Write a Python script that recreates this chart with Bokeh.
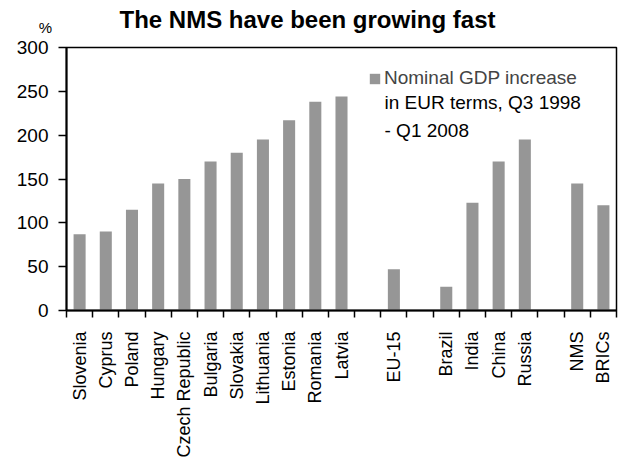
import math

from bokeh.embed import file_html
from bokeh.models import (ColumnDataSource, FixedTicker, Label, Legend,
                          LegendItem, Range1d)
from bokeh.plotting import figure
from bokeh.resources import INLINE

# Country groups, each group separated by an empty slot on the x axis
nms_countries = ["Slovenia", "Cyprus", "Poland", "Hungary", "Czech Republic",
                 "Bulgaria", "Slovakia", "Lithuania", "Estonia", "Romania", "Latvia"]
nms_values = [87, 90, 115, 145, 150, 170, 180, 195, 217, 238, 244]

eu_countries = ["EU-15"]
eu_values = [47]

bric_countries = ["Brazil", "India", "China", "Russia"]
bric_values = [27, 123, 170, 195]

aggregate_names = ["NMS", "BRICs"]
aggregate_values = [145, 120]

y_ticks = [0, 50, 100, 150, 200, 250, 300]

groups = [
    (nms_countries, nms_values),
    (eu_countries, eu_values),
    (bric_countries, bric_values),
    (aggregate_names, aggregate_values),
]

# Lay the groups out on slots of width 1, one blank slot between groups
names, values, centers = [], [], []
slot = 0
for gi, (labels, vals) in enumerate(groups):
    if gi > 0:
        slot += 1
    for lab, v in zip(labels, vals):
        names.append(lab)
        values.append(v)
        centers.append(slot + 0.5)
        slot += 1
n_slots = slot

source = ColumnDataSource(dict(x=centers, top=values, name=names))

FONT = "Liberation Sans"
BAR = "#969696"
INK = "#000000"

p = figure(width=618, height=460, output_backend="svg", toolbar_location=None,
           x_range=Range1d(0, n_slots), y_range=Range1d(0, 300),
           min_border_left=66, min_border_right=2, min_border_top=47,
           min_border_bottom=0)
p.title.text = ""

bars = p.vbar(x="x", top="top", width=0.46, source=source,
              fill_color=BAR, line_color=None)

p.xgrid.visible = False
p.ygrid.visible = False
p.outline_line_color = INK
p.outline_line_width = 1.5
p.background_fill_color = "white"
p.border_fill_color = "white"

# y axis
ya = p.yaxis[0]
ya.ticker = FixedTicker(ticks=y_ticks)
ya.major_tick_out = 8
ya.major_tick_in = 0
ya.minor_tick_line_color = None
ya.axis_line_width = 2
ya.axis_line_color = INK
ya.major_tick_line_color = INK
ya.major_tick_line_width = 1.5
ya.major_label_text_font = FONT
ya.major_label_text_font_size = "19px"
ya.major_label_text_color = INK
ya.major_label_standoff = 10

# x axis: labels at bar centres, tick marks at slot boundaries
xa = p.xaxis[0]
xa.ticker = FixedTicker(ticks=centers, minor_ticks=list(range(n_slots + 1)))
xa.major_label_overrides = {c: n for c, n in zip(centers, names)}
xa.major_label_orientation = math.pi / 2
xa.major_tick_line_color = None
xa.major_tick_out = 0
xa.major_tick_in = 0
xa.minor_tick_out = 7
xa.minor_tick_in = 0
xa.minor_tick_line_color = INK
xa.minor_tick_line_width = 1.5
xa.axis_line_width = 2
xa.axis_line_color = INK
xa.major_label_text_font = FONT
xa.major_label_text_font_size = "18px"
xa.major_label_text_color = INK
xa.major_label_standoff = 14

# chart title, in the panel above the frame (x measured from the frame's left edge)
p.add_layout(Label(x=241, y=28, x_units="screen", y_units="screen",
                   text="The NMS have been growing fast", text_font=FONT,
                   text_font_size="24px", text_font_style="bold",
                   text_align="center", text_baseline="alphabetic",
                   text_color=INK), "above")

# unit marker, kept in the left panel beside the y axis
p.add_layout(Label(x=45, y=y_ticks[-1], y_offset=20, x_units="screen",
                   y_units="data", text="%", text_font=FONT,
                   text_font_size="15px", text_align="center",
                   text_baseline="alphabetic", text_color=INK), "left")

FRAME_H = 264
legend = Legend(items=[LegendItem(label="Nominal GDP increase", renderers=[bars])],
                location=(302, FRAME_H - 45), border_line_color=None,
                background_fill_alpha=0, label_text_font=FONT,
                label_text_font_size="19px", label_height=26,
                glyph_width=13, glyph_height=13, label_standoff=3,
                padding=0, margin=0, spacing=0)
p.add_layout(legend)

p.add_layout(Label(x=318, y=FRAME_H - 45, x_units="screen", y_units="screen",
                   text="in EUR terms, Q3 1998\n- Q1 2008", text_font=FONT,
                   text_font_size="19px", text_line_height=1.35,
                   text_baseline="top", text_align="left", text_color=INK))

open("out.html", "w").write(file_html(p, INLINE))
